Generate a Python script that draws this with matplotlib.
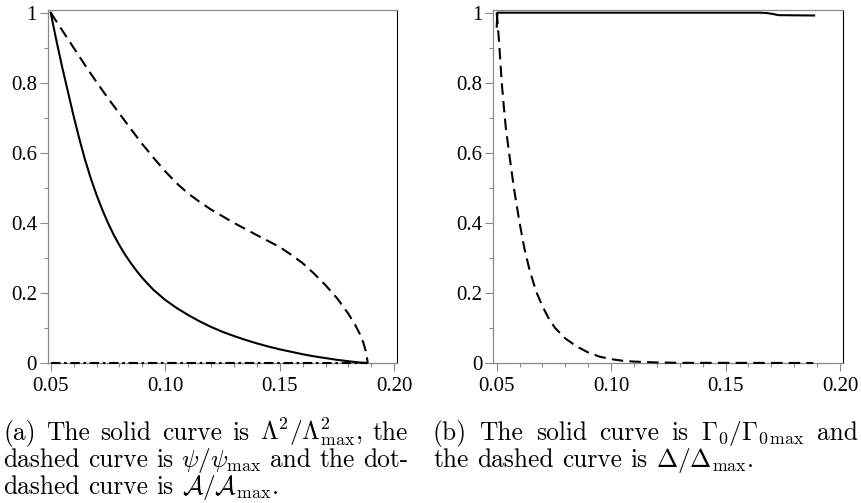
import matplotlib
matplotlib.use("Agg")
import matplotlib.pyplot as plt
from matplotlib.ticker import MultipleLocator, FixedLocator, FixedFormatter

plt.rcParams['mathtext.fontset'] = 'cm'

# ---------------- data ----------------
# Panel (a)
a_solid_x = [0.050, 0.0525, 0.055, 0.0575, 0.060, 0.0625, 0.065, 0.0675, 0.070, 0.0725,
             0.075, 0.0775, 0.080, 0.0825, 0.085, 0.0875, 0.090, 0.0925, 0.095, 0.100,
             0.105, 0.110, 0.115, 0.120, 0.125, 0.130, 0.135, 0.140, 0.145, 0.150,
             0.155, 0.160, 0.165, 0.170, 0.175, 0.180, 0.184, 0.188]
a_solid_y = [1.000, 0.920, 0.845, 0.775, 0.705, 0.640, 0.580, 0.527, 0.480, 0.438,
             0.400, 0.366, 0.336, 0.309, 0.285, 0.263, 0.243, 0.225, 0.208, 0.180,
             0.157, 0.137, 0.119, 0.103, 0.089, 0.077, 0.066, 0.056, 0.047, 0.039,
             0.032, 0.025, 0.019, 0.014, 0.009, 0.005, 0.002, 0.000]

a_dash_x = [0.050, 0.055, 0.060, 0.065, 0.070, 0.075, 0.080, 0.085, 0.090, 0.095,
            0.100, 0.105, 0.110, 0.115, 0.120, 0.130, 0.140, 0.150, 0.155, 0.160,
            0.165, 0.170, 0.175, 0.180, 0.183, 0.185, 0.1865, 0.1875, 0.188, 0.1884]
a_dash_y = [1.000, 0.950, 0.900, 0.850, 0.802, 0.756, 0.712, 0.668, 0.625, 0.585,
            0.547, 0.513, 0.484, 0.460, 0.438, 0.400, 0.365, 0.331, 0.309, 0.285,
            0.255, 0.222, 0.185, 0.140, 0.108, 0.082, 0.058, 0.035, 0.018, 0.000]

a_dotdash_x = [0.050, 0.188]
a_dotdash_y = [0.000, 0.000]

# Panel (b)
b_solid_x = [0.0500, 0.0503, 0.165, 0.168, 0.171, 0.173, 0.1887]
b_solid_y = [0.960, 1.000, 1.000, 0.999, 0.996, 0.993, 0.992]

b_dash_x = [0.0500, 0.0505, 0.0510, 0.0516, 0.0522, 0.0530, 0.0540, 0.0554, 0.0575,
            0.0600, 0.0620, 0.0640, 0.0660, 0.0675, 0.0700, 0.0725, 0.0755, 0.0800,
            0.0850, 0.0900, 0.0950, 0.1000, 0.1050, 0.1100, 0.1200, 0.1300, 0.1883]
b_dash_y = [1.000, 0.960, 0.920, 0.860, 0.800, 0.740, 0.670, 0.600, 0.500,
            0.400, 0.330, 0.275, 0.230, 0.200, 0.162, 0.130, 0.100, 0.070,
            0.047, 0.030, 0.018, 0.011, 0.0065, 0.004, 0.0015, 0.0005, 0.000]

x_ticks = [0.05, 0.10, 0.15, 0.20]
x_tick_labels = ["0.05", "0.10", "0.15", "0.20"]
y_ticks = [0, 0.2, 0.4, 0.6, 0.8, 1.0]
y_tick_labels = ["0", "0.2", "0.4", "0.6", "0.8", "1"]

caption_a = [
    (["(a)", "The", "solid", "curve", "is", r"$\Lambda^2/\Lambda^2_{\max}$,", "the"], True),
    (["dashed", "curve", "is", r"$\psi/\psi_{\max}$", "and", "the", "dot-"], True),
    (["dashed", "curve", "is", r"$\mathcal{A}/\mathcal{A}_{\max}$."], False),
]
caption_b = [
    (["(b)", "The", "solid", "curve", "is", r"$\Gamma_0/\Gamma_{0\,\max}$", "and"], True),
    (["the", "dashed", "curve", "is", r"$\Delta/\Delta_{\max}$."], False),
]

# ---------------- figure ----------------
W, H = 862, 503
fig = plt.figure(figsize=(W / 100, H / 100), dpi=100)

GRAY = '#8a8a8a'
TICKFONT = dict(family='Liberation Serif', size=15)


def style_axes(ax, xlim):
    ax.set_xlim(*xlim)
    ax.set_ylim(0, 1.0077)
    ax.xaxis.set_major_locator(FixedLocator(x_ticks))
    ax.xaxis.set_major_formatter(FixedFormatter(x_tick_labels))
    ax.yaxis.set_major_locator(FixedLocator(y_ticks))
    ax.yaxis.set_major_formatter(FixedFormatter(y_tick_labels))
    ax.xaxis.set_minor_locator(MultipleLocator(0.01))
    ax.yaxis.set_minor_locator(MultipleLocator(0.1))
    for side in ['left', 'top', 'bottom']:
        ax.spines[side].set_color(GRAY)
        ax.spines[side].set_linewidth(0.9)
    ax.spines['right'].set_color('black')
    ax.spines['right'].set_linewidth(0.8)
    ax.tick_params(which='major', direction='out', length=6, width=0.8, color=GRAY,
                   labelcolor='black')
    ax.tick_params(which='minor', direction='out', length=3, width=0.8, color=GRAY)
    ax.tick_params(axis='y', which='major', pad=2)
    ax.tick_params(axis='x', which='major', pad=4)
    for lab in ax.get_xticklabels() + ax.get_yticklabels():
        lab.set_fontfamily(TICKFONT['family'])
        lab.set_fontsize(TICKFONT['size'])
    ax.set_facecolor('white')


ax1 = fig.add_axes([48 / W, (H - 363) / H, 349 / W, 353 / H])
ax2 = fig.add_axes([493.3 / W, (H - 363) / H, 349.4 / W, 353 / H])

LW = 1.5
ax1.plot(a_dotdash_x, a_dotdash_y, color='black', lw=LW,
         dashes=(4.5, 1.8, 1.2, 1.8), zorder=5, clip_on=False)
ax1.plot(a_dash_x, a_dash_y, color='black', lw=LW, dashes=(5.5, 3.0), zorder=3,
         clip_on=False)
ax1.plot(a_solid_x, a_solid_y, color='black', lw=LW, zorder=4, clip_on=False)
style_axes(ax1, (0.04882, 0.20118))

ax2.plot(b_dash_x, b_dash_y, color='black', lw=LW, dashes=(5.5, 3.0), zorder=3,
         clip_on=False)
ax2.plot(b_solid_x, b_solid_y, color='black', lw=LW, zorder=4, clip_on=False)
style_axes(ax2, (0.04851, 0.20118))

# ---------------- captions (justified like LaTeX) ----------------
CAP_SIZE = 18.3
renderer = fig.canvas.get_renderer()


def place_paragraph(lines, x0, x1, baselines):
    space = 0.333 * CAP_SIZE * 100 / 72
    for (words, justify), yb in zip(lines, baselines):
        texts = [fig.text(0, 0, w, fontsize=CAP_SIZE, family='cmr10',
                          va='baseline', ha='left') for w in words]
        widths = [t.get_window_extent(renderer).width for t in texts]
        if justify and len(words) > 1:
            gap = (x1 - x0 - sum(widths)) / (len(words) - 1)
        else:
            gap = space
        x = x0
        for t, w in zip(texts, widths):
            t.set_position((x / W, 1 - yb / H))
            x += w + gap


place_paragraph(caption_a, 3, 408, [440.0, 467.0, 494.0])
place_paragraph(caption_b, 433, 858, [440.0, 467.0])

fig.savefig('out.png', dpi=100, facecolor='white')
